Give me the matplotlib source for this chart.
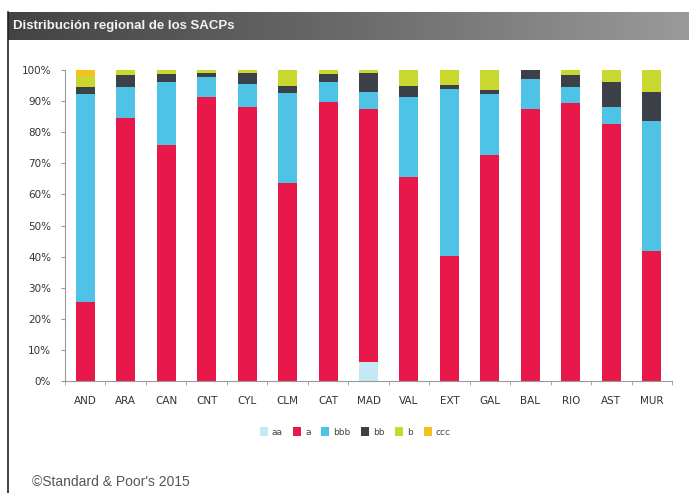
import numpy as np
import matplotlib
matplotlib.use("Agg")
import matplotlib.pyplot as plt
from matplotlib.ticker import PercentFormatter
from matplotlib.colors import LinearSegmentedColormap

regions = ["AND", "ARA", "CAN", "CNT", "CYL", "CLM", "CAT", "MAD", "VAL", "EXT", "GAL", "BAL", "RIO", "AST", "MUR"]
ratings = ["aa", "a", "bbb", "bb", "b", "ccc"]
aa  = [0, 0, 0, 0, 0, 0, 0, 6.2, 0, 0, 0, 0, 0, 0, 0]
a   = [25.3, 84.7, 75.9, 91.4, 88.2, 63.8, 89.6, 81.1, 65.7, 40.2, 72.7, 87.3, 89.3, 82.6, 41.9]
bbb = [66.9, 9.9, 20.3, 6.4, 7.2, 28.9, 6.4, 5.5, 25.5, 53.6, 19.6, 9.8, 5.1, 5.6, 41.8]
bb  = [2.4, 3.8, 2.5, 1.2, 3.6, 2.3, 2.7, 6.1, 3.8, 1.4, 1.3, 2.9, 4.0, 7.8, 9.3]
b   = [3.4, 1.6, 1.3, 1.0, 1.0, 5.0, 1.3, 1.1, 5.0, 4.8, 6.4, 0.0, 1.6, 4.0, 7.0]
ccc = [2.0, 0, 0, 0, 0, 0, 0, 0, 0, 0, 0, 0, 0, 0, 0]

series = [aa, a, bbb, bb, b, ccc]
colors = ["#c4e9f2", "#e8194a", "#4ec3e5", "#3b4049", "#c9d82e", "#f4c21e"]

fig = plt.figure(figsize=(6.89, 4.93), dpi=100)
fig.patch.set_facecolor("white")

# title bar with gradient
bar_ax = fig.add_axes([8/689, 1 - 40/493, 681/689, 28/493])
grad = np.linspace(0, 1, 256).reshape(1, -1)
cmap = LinearSegmentedColormap.from_list("g", ["#434343", "#6a6a6a", "#9a9a9a"])
bar_ax.imshow(grad, aspect="auto", cmap=cmap, extent=[0, 1, 0, 1])
bar_ax.set_axis_off()
bar_ax.text(0.007, 0.5, "Distribución regional de los SACPs", color="#f2f2f2",
            fontsize=9.5, fontweight="bold", family="Liberation Sans",
            va="center", ha="left", transform=bar_ax.transAxes)

# left border line
fig.add_artist(plt.Line2D([8/689, 8/689], [0, 1 - 12/493], color="#222222", lw=1.2, transform=fig.transFigure))

ax = fig.add_axes([65/689, 1 - 381/493, 607/689, 311/493])
x = np.arange(len(regions))
bottom = np.zeros(len(regions))
for vals, col, lab in zip(series, colors, ratings):
    ax.bar(x, vals, bottom=bottom, width=0.47, color=col, label=lab, linewidth=0)
    bottom += np.array(vals)

ax.set_xlim(-0.5, len(regions) - 0.5)
ax.set_ylim(0, 100)
ax.set_yticks(np.arange(0, 101, 10))
ax.yaxis.set_major_formatter(PercentFormatter(decimals=0))
ax.set_xticks(x)
ax.set_xticklabels(regions)
ax.set_xticks(np.arange(-0.5, len(regions), 1), minor=True)
ax.tick_params(axis="x", which="major", length=0, labelsize=7.5, colors="#333333", pad=11)
ax.tick_params(axis="x", which="minor", length=3, color="#999999")
ax.tick_params(axis="y", length=3, color="#999999", labelsize=7.5, labelcolor="#333333", pad=7)
for s in ["top", "right"]:
    ax.spines[s].set_visible(False)
for s in ["left", "bottom"]:
    ax.spines[s].set_color("#999999")
    ax.spines[s].set_linewidth(0.8)

leg = fig.legend(loc="center", bbox_to_anchor=(355/689, 1 - 432/493), ncol=6, frameon=False,
                 fontsize=6.5, handlelength=0.9, handleheight=1.0, handletextpad=0.4, columnspacing=1.2)
for t in leg.get_texts():
    t.set_color("#444444")

fig.text(32/689, 1 - 482/493, "©Standard & Poor's 2015", fontsize=10, family="Liberation Sans",
         color="#555555", va="center", ha="left")

fig.savefig("out.png", dpi=100)
